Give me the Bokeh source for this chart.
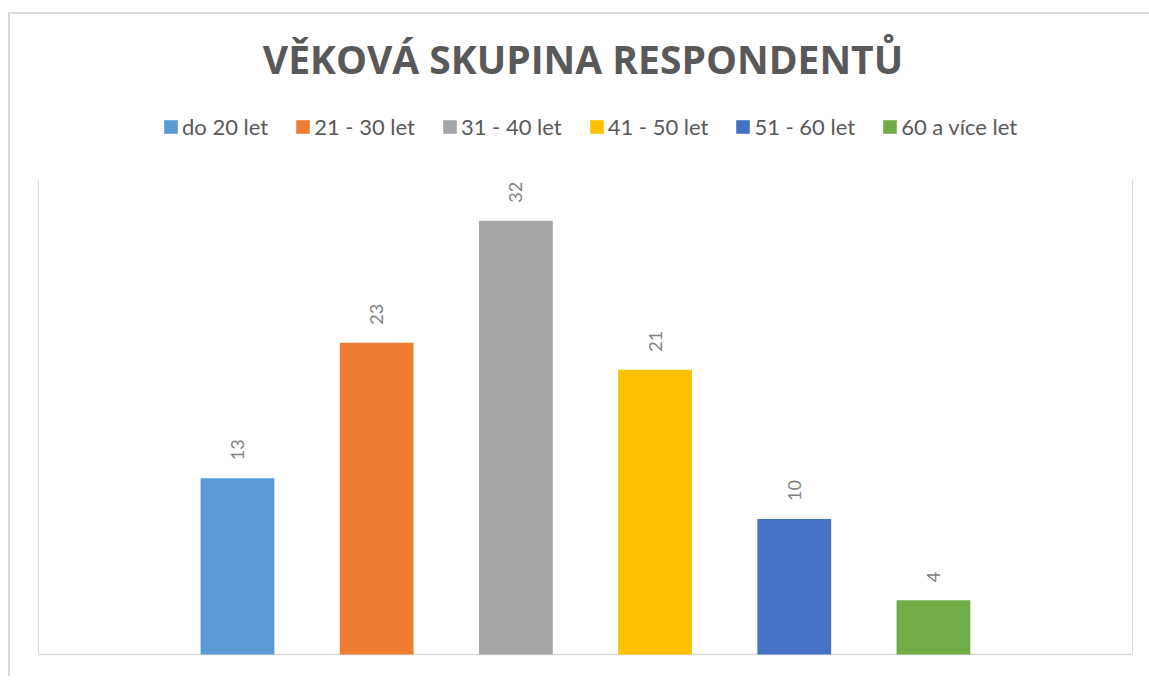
import math
from bokeh.plotting import figure
from bokeh.models import (ColumnDataSource, Range1d, Legend, LegendItem, LabelSet)
from bokeh.embed import file_html
from bokeh.resources import INLINE
from bokeh.core.properties import value

# ---- data ----
categories = ["do 20 let", "21 - 30 let", "31 - 40 let", "41 - 50 let", "51 - 60 let", "60 a více let"]
counts = [13, 23, 32, 21, 10, 4]
colors = ["#5B9BD5", "#ED7D31", "#A5A5A5", "#FFC000", "#4472C4", "#70AD47"]
title_text = "VĚKOVÁ SKUPINA RESPONDENTŮ"

# plot-area limits (data units)
pa_left, pa_right = -1.43, 6.43
pa_bottom, pa_top = 0, 35

p = figure(width=1149, height=676, output_backend="svg", toolbar_location=None,
           x_axis_type=None, y_axis_type=None,
           x_range=Range1d(-1.5876, 6.552), y_range=Range1d(-1.62, 40.86),
           min_border_left=16, min_border_right=0, min_border_bottom=0, min_border_top=100)
p.outline_line_color = None
p.grid.visible = False
p.background_fill_alpha = 0
p.border_fill_alpha = 0
p.styles = {
    "background": ("linear-gradient(#d9d9d9,#d9d9d9) 8px 12px / 100% 2px no-repeat, "
                   "linear-gradient(#d9d9d9,#d9d9d9) 8px 12px / 2px 100% no-repeat, white")
}

# plot-area frame lines (left, right, bottom axis)
p.segment(x0=[pa_left, pa_right], y0=[pa_bottom, pa_bottom],
          x1=[pa_left, pa_right], y1=[pa_top, pa_top], line_color="#d9d9d9", line_width=1)
p.segment(x0=[pa_left], y0=[pa_bottom], x1=[pa_right], y1=[pa_bottom],
          line_color="#d9d9d9", line_width=1.5)

items = []
for i, (c, v, col) in enumerate(zip(categories, counts, colors)):
    src = ColumnDataSource(dict(x=[i], top=[v]))
    r = p.vbar(x="x", top="top", bottom=0, width=0.53, source=src, fill_color=col, line_color=None)
    items.append(LegendItem(label=c, renderers=[r]))

legend = Legend(items=items, orientation="horizontal", location=(146, 536),
                glyph_width=17, glyph_height=17, label_standoff=3, spacing=26,
                padding=0, margin=0, border_line_alpha=0, background_fill_alpha=0,
                label_text_font="Lato", label_text_font_size="22px",
                label_text_color="#595959")
p.add_layout(legend, "center")

lab_src = ColumnDataSource(dict(x=list(range(len(counts))), y=counts,
                                t=[str(v) for v in counts]))
labels = LabelSet(x="x", y="y", text="t", source=lab_src, angle=math.pi / 2,
                  text_align="left", text_baseline="middle", y_offset=18,
                  text_font=value("Lato"), text_font_size="18px", text_color="#808080")
p.add_layout(labels)

p.title.text = title_text
p.title.text_font = "Open Sans"
p.title.text_font_style = "bold"
p.title.text_font_size = "39px"
p.title.text_color = "#595959"
p.title.align = "center"
p.title.standoff = 32

open("out.html", "w").write(file_html(p, INLINE))
